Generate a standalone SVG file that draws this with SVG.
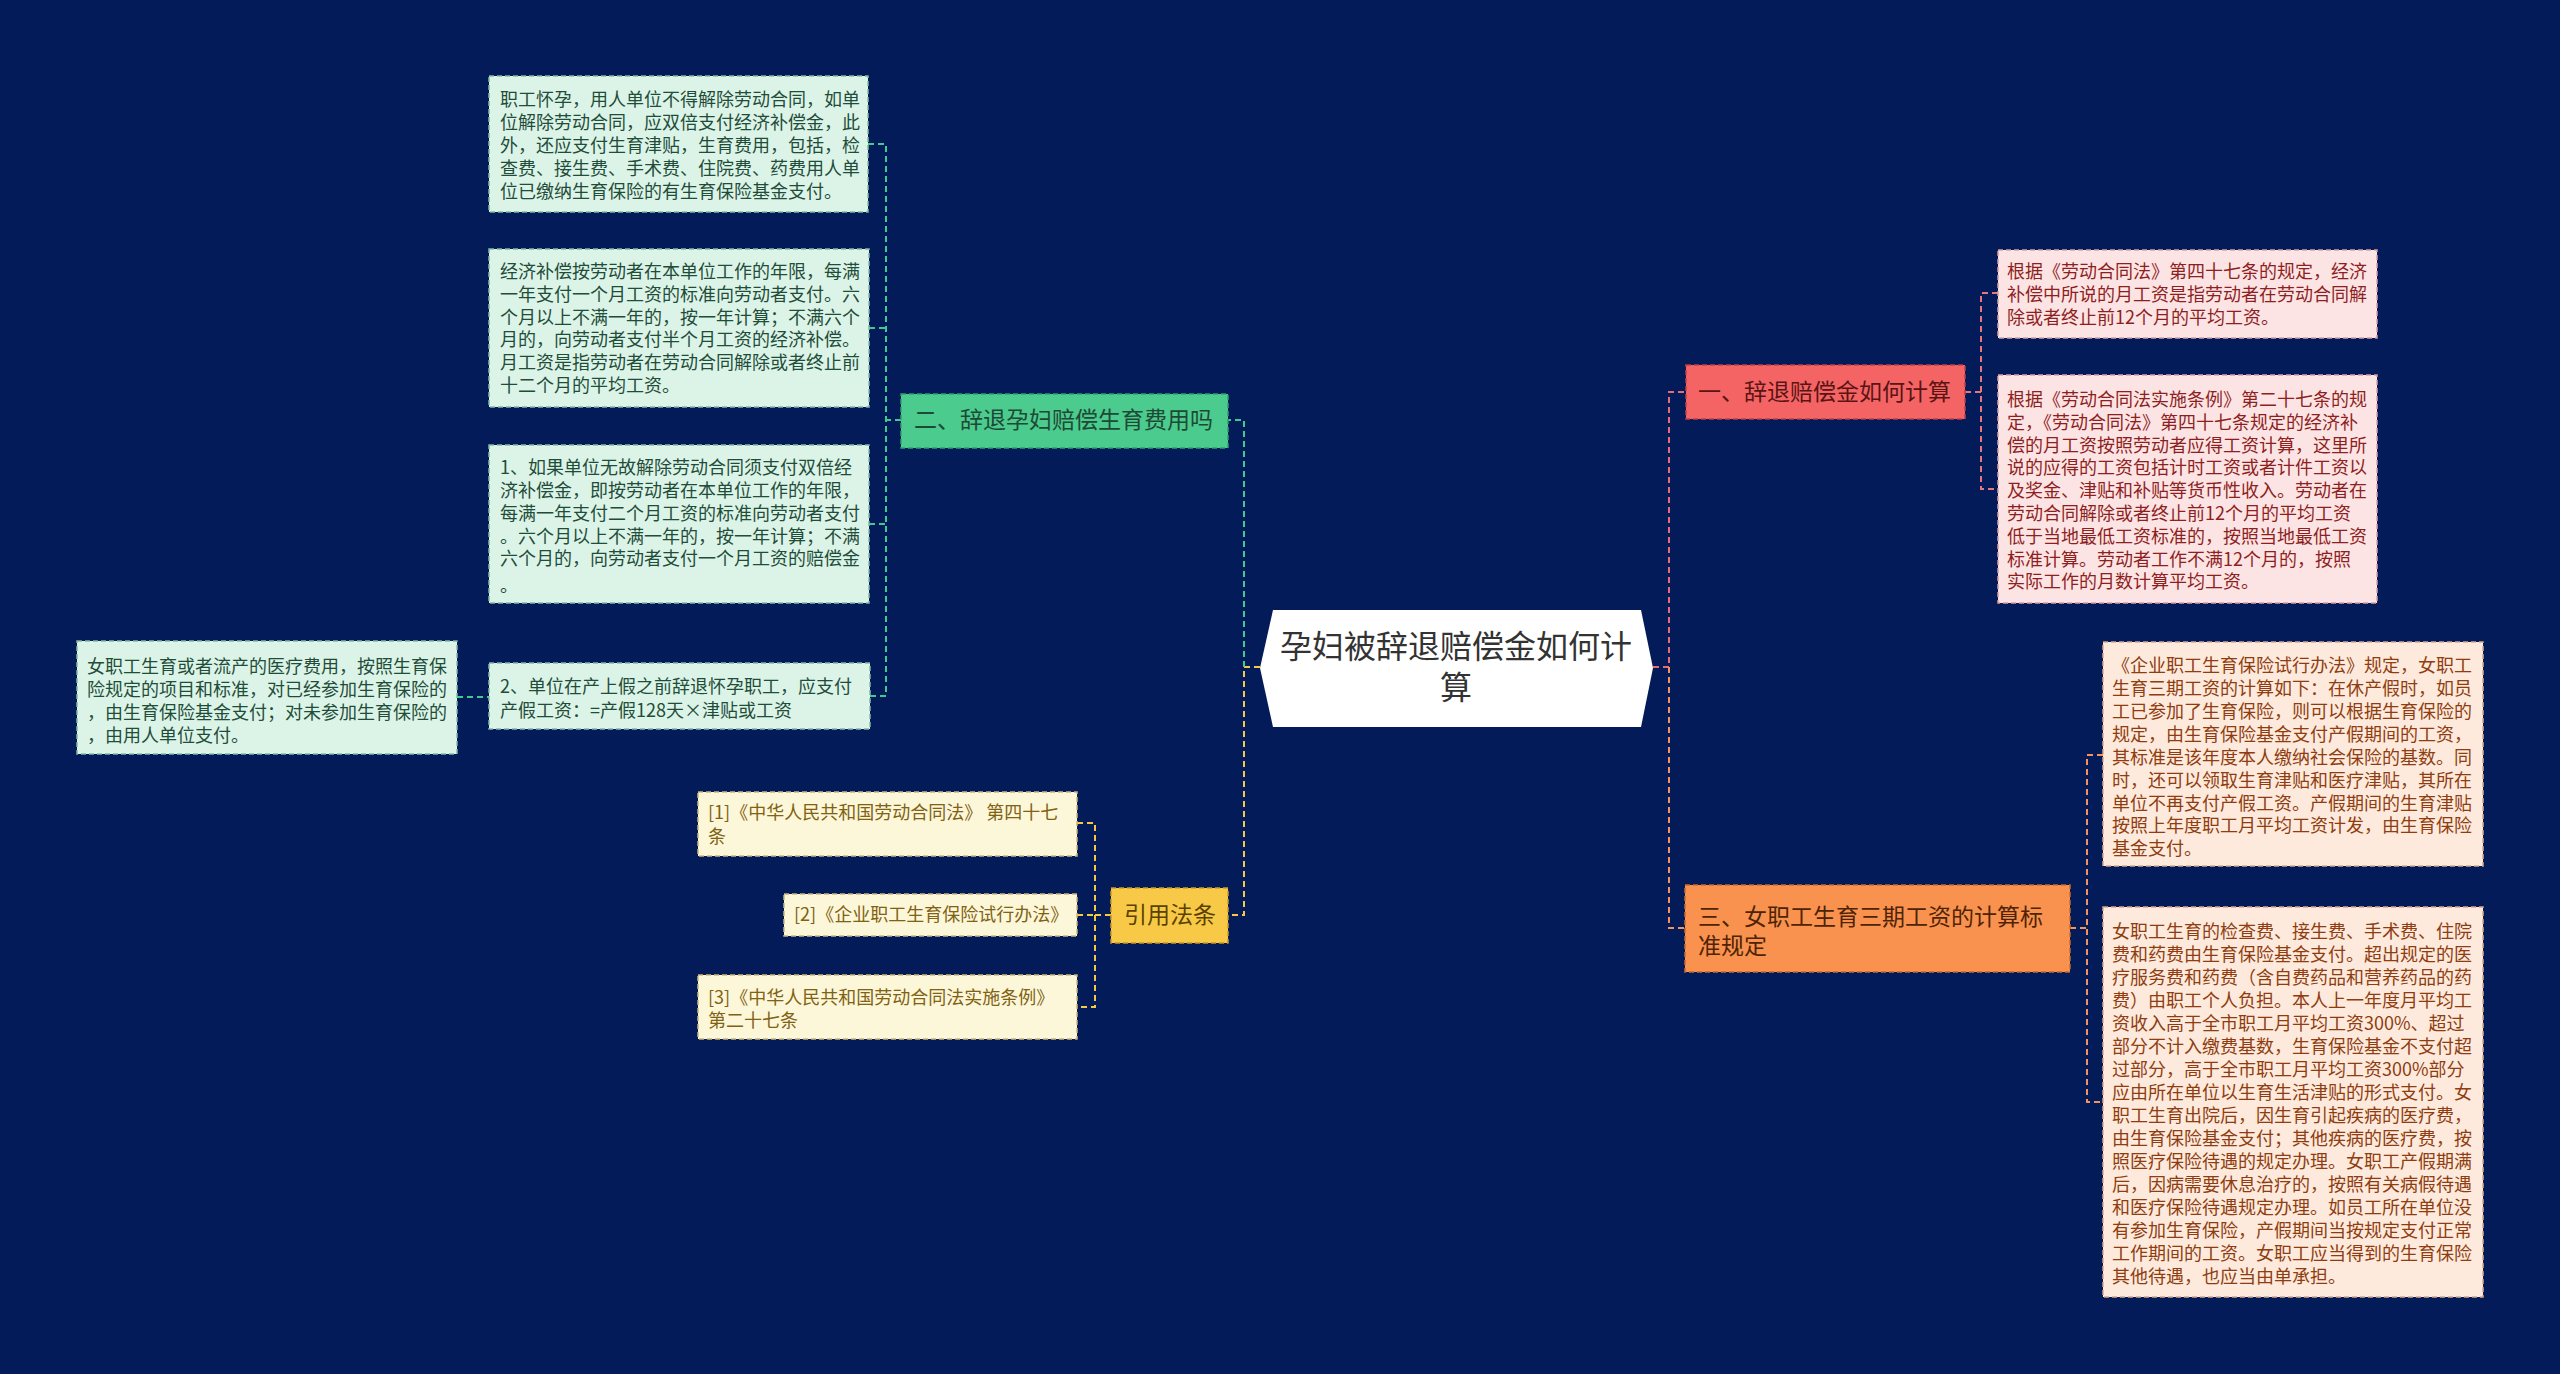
<svg xmlns="http://www.w3.org/2000/svg" width="2560" height="1374" viewBox="0 0 2560 1374">
<style>
text{font-family:"Noto Sans CJK SC","Noto Sans",sans-serif;}
.t18{font-size:18px;}
.t23{font-size:23px;}
.ln{fill:none;stroke-width:2;stroke-dasharray:6 4;}
.teal{stroke:#3fca8e;}
.yel{stroke:#f6c843;}
.red{stroke:#ee6a72;}
.org{stroke:#f7935a;}
.pink{stroke:#e6787a;}
.gbox{fill:#dcf4e8;stroke:#84b8a2;stroke-width:1.5;stroke-dasharray:5 3;}
.gtxt{fill:#1f4d39;}
.pbox{fill:#fde4e4;stroke:#d8a0a0;stroke-width:1.5;stroke-dasharray:5 3;}
.ptxt{fill:#8d1f1f;}
.obox{fill:#fdeadc;stroke:#d8a888;stroke-width:1.5;stroke-dasharray:5 3;}
.otxt{fill:#8f3d10;}
.cbox{fill:#fdf7da;stroke:#cdb878;stroke-width:1.5;stroke-dasharray:5 3;}
.ctxt{fill:#7f6212;}
</style>
<rect x="0" y="0" width="2560" height="1374" fill="#031b58"/>

<g id="connectors">
  <path class="ln yel" d="M1260,667 H1244 V915 H1228"/>
  <path class="ln teal" d="M1244,667 V420 H1228"/>
  <path class="ln teal" d="M901,420 H886"/>
  <path class="ln teal" d="M868,144 H886 V696 H870"/>
  <path class="ln teal" d="M869,328 H886"/>
  <path class="ln teal" d="M869,524 H886"/>
  <path class="ln teal" d="M457,697 H489"/>
  <path class="ln yel" d="M1111,915 H1095"/>
  <path class="ln yel" d="M1077,823 H1095 V1007 H1077"/>
  <path class="ln yel" d="M1077,915 H1095"/>
  <path class="ln red" d="M1653,667 H1669 V392 H1686"/>
  <path class="ln org" d="M1669,667 V928 H1685"/>
  <path class="ln pink" d="M1965,392 H1981"/>
  <path class="ln pink" d="M1998,293 H1981 V489 H1998"/>
  <path class="ln org" d="M2070,928 H2087"/>
  <path class="ln org" d="M2103,755 H2087 V1102 H2103"/>
</g>

<g id="center">
  <polygon points="1273,610 1641,610 1653,668 1641,727 1273,727 1260,668" fill="#ffffff"/>
  <text x="1456" y="658" font-size="32" fill="#333333" text-anchor="middle">孕妇被辞退赔偿金如何计</text>
  <text x="1456" y="699" font-size="32" fill="#333333" text-anchor="middle">算</text>
</g>

<g id="branch2">
  <rect x="901" y="394" width="327" height="54" fill="#4ccb8e" stroke="#2f9e6c" stroke-width="1.5" stroke-dasharray="5 3"/>
  <text class="t23" x="914" y="428" fill="#1d4a35">二、辞退孕妇赔偿生育费用吗</text>
</g>

<g id="g-box1">
  <rect class="gbox" x="489" y="76" width="379" height="136"/>
  <text class="t18 gtxt">
    <tspan x="500" y="106">职工怀孕，用人单位不得解除劳动合同，如单</tspan>
    <tspan x="500" y="129">位解除劳动合同，应双倍支付经济补偿金，此</tspan>
    <tspan x="500" y="152">外，还应支付生育津贴，生育费用，包括，检</tspan>
    <tspan x="500" y="175">查费、接生费、手术费、住院费、药费用人单</tspan>
    <tspan x="500" y="198">位已缴纳生育保险的有生育保险基金支付。</tspan>
  </text>
</g>

<g id="g-box2">
  <rect class="gbox" x="489" y="249" width="380" height="158"/>
  <text class="t18 gtxt">
    <tspan x="500" y="278">经济补偿按劳动者在本单位工作的年限，每满</tspan>
    <tspan x="500" y="301">一年支付一个月工资的标准向劳动者支付。六</tspan>
    <tspan x="500" y="324">个月以上不满一年的，按一年计算；不满六个</tspan>
    <tspan x="500" y="346">月的，向劳动者支付半个月工资的经济补偿。</tspan>
    <tspan x="500" y="369">月工资是指劳动者在劳动合同解除或者终止前</tspan>
    <tspan x="500" y="392">十二个月的平均工资。</tspan>
  </text>
</g>

<g id="g-box3">
  <rect class="gbox" x="489" y="445" width="380" height="158"/>
  <text class="t18 gtxt">
    <tspan x="500" y="474">1、如果单位无故解除劳动合同须支付双倍经</tspan>
    <tspan x="500" y="497">济补偿金，即按劳动者在本单位工作的年限，</tspan>
    <tspan x="500" y="520">每满一年支付二个月工资的标准向劳动者支付</tspan>
    <tspan x="500" y="543">。六个月以上不满一年的，按一年计算；不满</tspan>
    <tspan x="500" y="565">六个月的，向劳动者支付一个月工资的赔偿金</tspan>
    <tspan x="500" y="592">。</tspan>
  </text>
</g>

<g id="g-box4">
  <rect class="gbox" x="489" y="663" width="381" height="66"/>
  <text class="t18 gtxt">
    <tspan x="500" y="693">2、单位在产上假之前辞退怀孕职工，应支付</tspan>
    <tspan x="500" y="717">产假工资：=产假128天×津贴或工资</tspan>
  </text>
</g>

<g id="g-box5">
  <rect class="gbox" x="77" y="641" width="380" height="113"/>
  <text class="t18 gtxt">
    <tspan x="87" y="673">女职工生育或者流产的医疗费用，按照生育保</tspan>
    <tspan x="87" y="696">险规定的项目和标准，对已经参加生育保险的</tspan>
    <tspan x="87" y="719">，由生育保险基金支付；对未参加生育保险的</tspan>
    <tspan x="87" y="742">，由用人单位支付。</tspan>
  </text>
</g>

<g id="cite">
  <rect x="1111" y="888" width="117" height="55" fill="#f8c947" stroke="#c99a22" stroke-width="1.5" stroke-dasharray="5 3"/>
  <text class="t23" x="1124" y="923" fill="#5a4200">引用法条</text>
</g>

<g id="cite1">
  <rect class="cbox" x="698" y="792" width="379" height="64"/>
  <text class="t18 ctxt">
    <tspan x="708" y="819">[1]《中华人民共和国劳动合同法》 第四十七</tspan>
    <tspan x="708" y="843">条</tspan>
  </text>
</g>

<g id="cite2">
  <rect class="cbox" x="784" y="894" width="293" height="42"/>
  <text class="t18 ctxt" x="794" y="921">[2]《企业职工生育保险试行办法》</text>
</g>

<g id="cite3">
  <rect class="cbox" x="698" y="975" width="379" height="64"/>
  <text class="t18 ctxt">
    <tspan x="708" y="1004">[3]《中华人民共和国劳动合同法实施条例》</tspan>
    <tspan x="708" y="1027">第二十七条</tspan>
  </text>
</g>

<g id="branch1">
  <rect x="1686" y="365" width="279" height="54" fill="#f46464" stroke="#c23e3e" stroke-width="1.5" stroke-dasharray="5 3"/>
  <text class="t23" x="1698" y="400" fill="#5a1414">一、辞退赔偿金如何计算</text>
</g>

<g id="b1-child1">
  <rect class="pbox" x="1998" y="250" width="379" height="88"/>
  <text class="t18 ptxt">
    <tspan x="2007" y="278">根据《劳动合同法》第四十七条的规定，经济</tspan>
    <tspan x="2007" y="301">补偿中所说的月工资是指劳动者在劳动合同解</tspan>
    <tspan x="2007" y="324">除或者终止前12个月的平均工资。</tspan>
  </text>
</g>

<g id="b1-child2">
  <rect class="pbox" x="1998" y="375" width="379" height="228"/>
  <text class="t18 ptxt">
    <tspan x="2007" y="406">根据《劳动合同法实施条例》第二十七条的规</tspan>
    <tspan x="2007" y="429">定，《劳动合同法》第四十七条规定的经济补</tspan>
    <tspan x="2007" y="452">偿的月工资按照劳动者应得工资计算，这里所</tspan>
    <tspan x="2007" y="474">说的应得的工资包括计时工资或者计件工资以</tspan>
    <tspan x="2007" y="497">及奖金、津贴和补贴等货币性收入。劳动者在</tspan>
    <tspan x="2007" y="520">劳动合同解除或者终止前12个月的平均工资</tspan>
    <tspan x="2007" y="543">低于当地最低工资标准的，按照当地最低工资</tspan>
    <tspan x="2007" y="566">标准计算。劳动者工作不满12个月的，按照</tspan>
    <tspan x="2007" y="588">实际工作的月数计算平均工资。</tspan>
  </text>
</g>

<g id="branch3">
  <rect x="1685" y="885" width="385" height="87" fill="#fa924f" stroke="#c86a2e" stroke-width="1.5" stroke-dasharray="5 3"/>
  <text class="t23" fill="#4f2406">
    <tspan x="1698" y="925">三、女职工生育三期工资的计算标</tspan>
    <tspan x="1698" y="954">准规定</tspan>
  </text>
</g>

<g id="b3-child1">
  <rect class="obox" x="2103" y="642" width="380" height="224"/>
  <text class="t18 otxt">
    <tspan x="2112" y="672">《企业职工生育保险试行办法》规定，女职工</tspan>
    <tspan x="2112" y="695">生育三期工资的计算如下：在休产假时，如员</tspan>
    <tspan x="2112" y="718">工已参加了生育保险，则可以根据生育保险的</tspan>
    <tspan x="2112" y="741">规定，由生育保险基金支付产假期间的工资，</tspan>
    <tspan x="2112" y="764">其标准是该年度本人缴纳社会保险的基数。同</tspan>
    <tspan x="2112" y="787">时，还可以领取生育津贴和医疗津贴，其所在</tspan>
    <tspan x="2112" y="810">单位不再支付产假工资。产假期间的生育津贴</tspan>
    <tspan x="2112" y="832">按照上年度职工月平均工资计发，由生育保险</tspan>
    <tspan x="2112" y="855">基金支付。</tspan>
  </text>
</g>

<g id="b3-child2">
  <rect class="obox" x="2103" y="907" width="380" height="390"/>
  <text class="t18 otxt">
    <tspan x="2112" y="938">女职工生育的检查费、接生费、手术费、住院</tspan>
    <tspan x="2112" y="961">费和药费由生育保险基金支付。超出规定的医</tspan>
    <tspan x="2112" y="984">疗服务费和药费（含自费药品和营养药品的药</tspan>
    <tspan x="2112" y="1007">费）由职工个人负担。本人上一年度月平均工</tspan>
    <tspan x="2112" y="1030">资收入高于全市职工月平均工资300%、超过</tspan>
    <tspan x="2112" y="1053">部分不计入缴费基数，生育保险基金不支付超</tspan>
    <tspan x="2112" y="1076">过部分，高于全市职工月平均工资300%部分</tspan>
    <tspan x="2112" y="1099">应由所在单位以生育生活津贴的形式支付。女</tspan>
    <tspan x="2112" y="1122">职工生育出院后，因生育引起疾病的医疗费，</tspan>
    <tspan x="2112" y="1145">由生育保险基金支付；其他疾病的医疗费，按</tspan>
    <tspan x="2112" y="1168">照医疗保险待遇的规定办理。女职工产假期满</tspan>
    <tspan x="2112" y="1191">后，因病需要休息治疗的，按照有关病假待遇</tspan>
    <tspan x="2112" y="1214">和医疗保险待遇规定办理。如员工所在单位没</tspan>
    <tspan x="2112" y="1237">有参加生育保险，产假期间当按规定支付正常</tspan>
    <tspan x="2112" y="1260">工作期间的工资。女职工应当得到的生育保险</tspan>
    <tspan x="2112" y="1283">其他待遇，也应当由单承担。</tspan>
  </text>
</g>
</svg>
